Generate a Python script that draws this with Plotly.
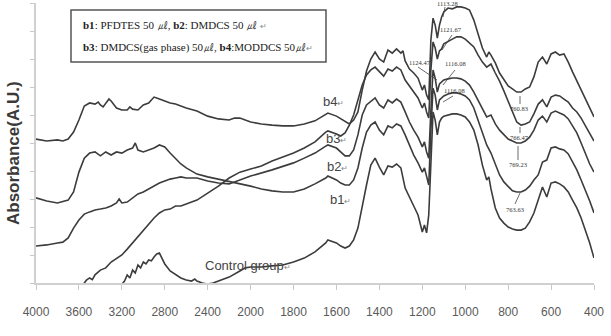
import plotly.graph_objects as go

# ---------------- data (wavenumber cm-1, absorbance A.U.) ----------------
tick_labels = ["4000", "3600", "3200", "2800", "2400", "2000", "1800", "1600",
               "1400", "1200", "1000", "800", "600", "400"]
tick_wn = [4000, 3600, 3200, 2800, 2400, 2000, 1800, 1600, 1400, 1200, 1000, 800, 600, 400]

b4 = [(4000,5.14),(3900,5.07),(3800,5.11),(3750,5.07),(3700,5.14),(3650,5.39),(3600,5.82),(3550,6.32),
      (3500,6.43),(3450,6.39),(3420,6.46),(3400,6.36),(3375,6.29),(3320,6.57),(3300,6.5),(3250,6.25),
      (3200,6.18),(3150,6.18),(3125,6.29),(3100,6.21),(3050,6.18),(3000,6.36),(2950,6.43),(2900,6.64),
      (2850,6.57),(2800,6.5),(2750,6.43),(2700,6.39),(2650,6.32),(2600,6.25),(2500,6.14),(2400,5.96),
      (2300,5.86),(2200,5.82),(2150,5.89),(2100,5.89),(2000,5.75),(1950,5.68),(1900,5.64),(1850,5.61),
      (1800,5.61),(1750,5.68),(1700,5.79),(1650,6.04),(1640,6.07),(1600,5.96),(1580,5.86),(1560,5.75),
      (1540,5.68),(1520,5.82),(1500,6.11),(1480,6.89),(1460,7.57),(1440,8.0),(1420,8.25),(1400,8.0),
      (1380,7.89),(1360,8.32),(1340,8.21),(1320,8.36),(1300,8.21),(1290,8.29),(1280,7.93),(1260,7.64),
      (1240,7.5),(1220,7.32),(1200,6.89),(1190,7.07),(1180,6.71),(1170,6.54),(1160,8.68),(1150,9.46),
      (1140,9.21),(1130,8.75),(1120,9.21),(1110,9.5),(1100,9.68),(1080,9.82),(1060,9.79),(1040,9.86),
      (1020,9.86),(1000,9.82),(980,9.75),(960,9.39),(940,8.86),(920,8.39),(900,8.07),(890,8.25),
      (880,8.14),(860,7.86),(840,7.5),(820,7.25),(800,7.04),(780,6.93),(760,6.82),(740,6.82),(720,6.93),
      (700,7.0),(680,7.36),(660,7.89),(640,8.07),(620,7.82),(600,8.18),(580,8.25),(560,8.14),(540,8.18),
      (520,7.89),(500,7.54),(480,7.21),(460,6.93),(440,6.54),(420,6.25),(400,5.93)]

b3 = [(4000,-0.6),(3800,-0.5),(3650,-0.3),(3560,-0.05),(3530,0.1),(3500,0.18),(3475,0.12),(3450,0.29),
      (3400,0.46),(3350,0.54),(3300,0.75),(3250,0.89),(3200,1.0),(3150,1.21),(3100,1.43),(3050,1.64),
      (3000,1.86),(2950,2.11),(2900,2.32),(2850,2.5),(2800,2.61),(2750,2.64),(2700,2.75),(2650,2.75),
      (2600,2.82),(2500,2.96),(2400,3.21),(2300,3.46),(2200,3.75),(2100,3.96),(2000,4.07),(1950,4.18),
      (1900,4.36),(1850,4.5),(1800,4.64),(1750,4.82),(1700,5.04),(1650,5.39),(1640,5.43),(1600,5.32),
      (1580,5.25),(1560,5.36),(1540,5.64),(1520,6.0),(1500,6.54),(1480,7.07),(1460,7.43),(1440,7.61),
      (1420,7.71),(1400,7.54),(1380,7.39),(1360,7.64),(1340,7.57),(1320,7.71),(1300,7.61),(1280,7.25),
      (1260,7.04),(1240,6.82),(1220,6.61),(1200,6.25),(1190,6.43),(1180,6.11),(1170,5.89),(1160,7.61),
      (1150,8.61),(1140,8.39),(1130,8.0),(1120,8.29),(1110,8.36),(1100,8.54),(1080,8.64),(1060,8.71),
      (1040,8.79),(1020,8.79),(1000,8.71),(980,8.57),(960,8.43),(940,8.14),(920,7.89),(900,7.71),
      (880,7.82),(860,7.5),(840,7.21),(820,6.86),(800,6.5),(780,6.11),(760,5.75),(740,5.64),(720,5.68),
      (700,5.75),(680,6.04),(660,6.39),(640,6.54),(620,6.29),(600,6.64),(580,6.71),(560,6.68),(540,6.57),
      (520,6.46),(500,6.25),(480,6.11),(460,5.89),(440,5.61),(420,5.32),(400,5.07)]

b2 = [(4000,1.32),(3900,1.36),(3800,1.43),(3750,1.46),(3700,1.61),(3650,1.96),(3600,2.25),(3550,2.46),
      (3500,2.54),(3450,2.61),(3400,2.64),(3350,2.68),(3300,2.75),(3250,2.86),(3225,3.0),(3200,2.86),
      (3150,2.89),(3100,3.04),(3050,3.18),(3000,3.25),(2950,3.36),(2900,3.46),(2850,3.57),(2800,3.64),
      (2750,3.71),(2700,3.75),(2650,3.79),(2600,3.75),(2500,3.75),(2400,3.64),(2300,3.57),(2200,3.54),
      (2100,3.68),(2000,3.82),(1900,4.04),(1800,4.29),(1750,4.46),(1700,4.64),(1650,4.89),(1640,4.93),
      (1600,4.82),(1580,4.68),(1560,4.54),(1540,4.54),(1520,4.75),(1500,5.29),(1480,6.0),(1460,6.36),
      (1440,6.5),(1420,6.61),(1400,6.36),(1380,6.25),(1360,6.54),(1340,6.43),(1320,6.57),(1300,6.46),
      (1280,6.11),(1260,5.75),(1240,5.46),(1220,5.21),(1200,4.86),(1190,5.04),(1180,4.68),(1170,4.46),
      (1160,6.18),(1150,7.61),(1140,7.32),(1130,6.82),(1120,7.11),(1110,7.18),(1100,7.25),(1080,7.29),
      (1060,7.32),(1040,7.32),(1020,7.29),(1000,7.21),(980,7.07),(960,6.82),(940,6.54),(920,6.25),
      (900,5.93),(880,6.0),(860,5.68),(840,5.46),(820,5.29),(800,5.14),(780,5.07),(760,5.0),(740,5.0),
      (720,5.07),(700,5.21),(680,5.46),(660,5.82),(640,5.96),(620,5.75),(600,6.07),(580,6.14),(560,6.07),
      (540,6.0),(520,5.86),(500,5.61),(480,5.36),(460,5.0),(440,4.64),(420,4.25),(400,3.96)]

b1 = [(4000,3.04),(3900,2.93),(3800,2.86),(3700,2.96),(3650,3.25),(3600,3.96),(3550,4.46),(3500,4.64),
      (3450,4.68),(3400,4.54),(3350,4.68),(3300,4.57),(3250,4.68),(3200,4.64),(3150,4.75),(3100,4.82),
      (3075,5.0),(3050,4.75),(3000,4.68),(2950,4.75),(2900,4.82),(2850,4.93),(2800,4.86),(2750,4.64),
      (2700,4.46),(2650,4.25),(2600,4.11),(2500,3.89),(2400,3.79),(2300,3.71),(2200,3.61),(2100,3.54),
      (2000,3.46),(1950,3.36),(1900,3.29),(1850,3.25),(1800,3.25),(1750,3.36),(1700,3.54),(1650,3.75),
      (1640,3.82),(1600,3.68),(1580,3.57),(1560,3.5),(1540,3.5),(1520,3.68),(1500,4.11),(1480,4.82),
      (1460,5.39),(1440,5.64),(1420,5.75),(1400,5.46),(1380,5.29),(1360,5.61),(1340,5.54),(1320,5.68),
      (1300,5.61),(1280,5.29),(1260,4.93),(1240,4.57),(1220,4.29),(1200,3.96),(1190,4.11),(1180,3.75),
      (1170,3.5),(1160,5.46),(1150,6.96),(1140,6.71),(1130,6.18),(1120,6.54),(1110,6.61),(1100,6.68),
      (1080,6.75),(1060,6.79),(1040,6.79),(1020,6.75),(1000,6.68),(980,6.54),(960,6.25),(940,5.82),
      (920,5.36),(900,4.93),(880,4.64),(860,4.21),(840,3.86),(820,3.61),(800,3.43),(780,3.29),(760,3.25),
      (740,3.25),(720,3.32),(700,3.46),(680,3.68),(660,3.86),(640,4.32),(620,4.39),(600,4.82),(580,4.86),
      (560,4.79),(540,4.75),(520,4.61),(500,4.32),(480,4.04),(460,3.68),(440,3.32),(420,2.93),(400,2.5)]

control = [(4000,-0.8),(3500,-0.8),(3300,-0.5),(3200,-0.07),(3175,0.07),(3150,0.29),(3125,0.18),(3100,0.46),
           (3075,0.36),(3050,0.64),(3025,0.54),(3000,0.75),(2975,0.68),(2950,0.82),(2925,0.79),(2900,0.93),
           (2875,1.04),(2850,1.07),(2825,0.89),(2800,0.68),(2750,0.43),(2700,0.29),(2650,0.18),(2600,0.11),
           (2550,0.07),(2520,0.14),(2500,0.07),(2450,0.0),(2400,-0.04),(2350,0.0),(2300,0.07),(2200,0.21),
           (2100,0.43),(2050,0.54),(2000,0.57),(1950,0.57),(1900,0.61),(1850,0.64),(1800,0.75),(1750,0.89),
           (1700,1.11),(1650,1.43),(1640,1.54),(1600,1.43),(1580,1.32),(1560,1.25),(1540,1.32),(1520,1.54),
           (1500,1.96),(1480,2.79),(1460,3.5),(1440,4.21),(1420,4.46),(1400,4.14),(1380,3.86),(1360,4.18),
           (1340,4.14),(1320,4.25),(1300,4.11),(1280,3.39),(1260,3.04),(1240,2.75),(1220,2.43),(1200,1.82),
           (1190,2.07),(1180,1.79),(1170,2.43),(1160,4.39),(1150,6.11),(1140,5.82),(1130,5.29),(1120,5.75),
           (1110,5.89),(1100,5.96),(1080,6.0),(1060,6.04),(1040,6.04),(1020,6.0),(1000,5.93),(980,5.75),
           (960,5.46),(940,4.93),(920,4.21),(900,3.68),(890,3.79),(880,3.36),(860,2.68),(840,2.32),
           (820,2.14),(800,2.0),(780,1.93),(760,1.89),(740,1.89),(720,1.96),(700,2.18),(680,2.5),(660,2.96),
           (640,3.43),(620,3.07),(600,3.57),(580,3.61),(560,3.54),(540,3.43),(520,3.25),(500,2.96),
           (480,2.68),(460,2.32),(440,1.89),(420,1.43),(400,0.89)]

series = [("b4", b4), ("b3", b3), ("b2", b2), ("b1", b1), ("Control group", control)]

peak_labels = ["1113.28", "1121.67", "1124.47", "1116.08", "1116.08",
               "760.83", "766.47", "769.23", "763.63"]


# Excel category-style axis: 400 cm-1 steps above 2000, 200 cm-1 steps below
def pos(w):
    return (4000 - w) / 400.0 if w >= 2000 else 5 + (2000 - w) / 200.0


# layout helpers (pixel -> paper) for decorations
L, R, T, B = 36, 17, 3, 53
W, H = 611, 336
PW, PH = W - L - R, H - T - B


def PX(px):
    return (px - L) / PW


def PY(py):
    return (H - B - py) / PH


fig = go.Figure()
for name, pts in series:
    xs = [pos(w) for w, _ in pts]
    ys = [a for _, a in pts]
    fig.add_trace(go.Scatter(x=xs, y=ys, mode="lines", name=name,
                             line=dict(color="#3c3c3c", width=1.6),
                             hoverinfo="skip", showlegend=False))

fig.update_layout(
    width=W, height=H, margin=dict(l=L, r=R, t=T, b=B),
    paper_bgcolor="white", plot_bgcolor="white",
    xaxis=dict(range=[0, 13], tickmode="array", tickvals=[pos(w) for w in tick_wn],
               ticktext=tick_labels, ticks="outside", ticklen=5, tickcolor="#c8c8c8",
               showline=True, linecolor="#d0d0d0", linewidth=2, showgrid=False,
               zeroline=False, ticklabelstandoff=12,
               tickfont=dict(family="Liberation Sans", size=12, color="#5a5a5a")),
    yaxis=dict(range=[0, 10], dtick=1, tick0=0, ticks="outside", ticklen=4,
               tickcolor="#c8c8c8", showticklabels=False, showline=True,
               linecolor="#d0d0d0", linewidth=1.5, showgrid=False, zeroline=False),
)

ann = []
# y-axis title
ann.append(dict(x=PX(13), y=PY(153), xref="paper", yref="paper", text="<b>Absorbance(A.U.)</b>",
                textangle=-90, showarrow=False, xanchor="center", yanchor="middle",
                font=dict(family="Liberation Sans", size=17, color="#3a3a3a")))

# legend box text
ret = "<span style='color:#888;font-size:8px'>↵</span>"
ann.append(dict(x=PX(81), y=PY(25), xref="paper", yref="paper", xanchor="left", yanchor="middle",
                text="<b>b1</b>: PFDTES 50 ㎕, <b>b2</b>: DMDCS 50 ㎕ " + ret, showarrow=False,
                font=dict(family="Liberation Serif", size=11, color="#222")))
ann.append(dict(x=PX(81), y=PY(47), xref="paper", yref="paper", xanchor="left", yanchor="middle",
                text="<b>b3</b>: DMDCS(gas phase) 50㎕, <b>b4</b>:MODDCS 50㎕" + ret, showarrow=False,
                font=dict(family="Liberation Serif", size=11, color="#222")))

# curve labels
curve_lab = [("b4", 321, 102), ("b3", 324, 138), ("b2", 325, 167), ("b1", 328, 200),
             ("Control group", 203, 265)]
for txt, x, y in curve_lab:
    ann.append(dict(x=PX(x), y=PY(y), xref="paper", yref="paper", xanchor="left", yanchor="middle",
                    text=txt + ret, showarrow=False,
                    font=dict(family="Liberation Sans", size=13, color="#444")))

# peak labels
peak_pos = [(447, 3), (451, 29), (420, 62), (455, 63), (454, 90),
            (519, 108), (519, 137), (518, 165), (515, 209)]
for txt, (x, y) in zip(peak_labels, peak_pos):
    ann.append(dict(x=PX(x), y=PY(y), xref="paper", yref="paper", xanchor="center", yanchor="middle",
                    text=txt, showarrow=False,
                    font=dict(family="Liberation Serif", size=6.5, color="#333")))

fig.update_layout(annotations=ann)

shapes = [dict(type="rect", xref="paper", yref="paper", x0=PX(71), x1=PX(326), y0=PY(62), y1=PY(10),
               line=dict(color="#555", width=1.5), fillcolor="rgba(255,255,255,0)")]
leaders = [((445, 7), (443, 17)), ((452, 35), (442, 50)), ((418, 67), (437, 80)),
           ((455, 70), (443, 85)), ((453, 96), (443, 102)), ((520, 96), (520, 104)),
           ((520, 127), (520, 133)), ((518, 146), (518, 160)), ((520, 193), (515, 204))]
for (x0, y0), (x1, y1) in leaders:
    shapes.append(dict(type="line", xref="paper", yref="paper", x0=PX(x0), y0=PY(y0),
                       x1=PX(x1), y1=PY(y1), line=dict(color="#444", width=0.8)))
fig.update_layout(shapes=shapes)

fig.write_html("out.html")
